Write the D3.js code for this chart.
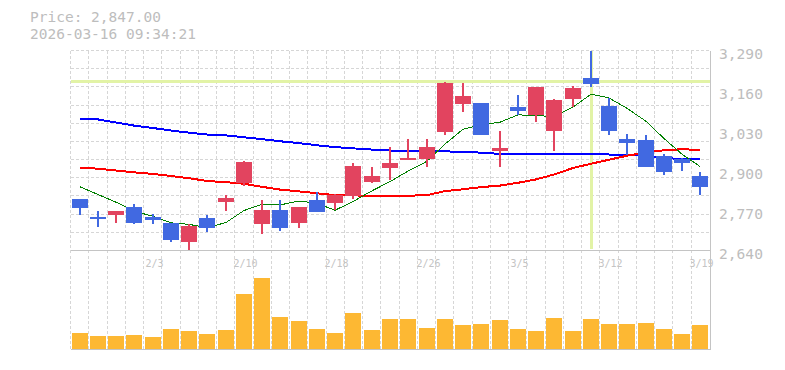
<!DOCTYPE html>
<html>
<head>
<meta charset="utf-8">
<script src="https://cdn.jsdelivr.net/npm/d3@7"></script>
<style>
  body { margin: 0; background: #fff; }
  svg { display: block; background: #fff; }
  text { font-family: "DejaVu Sans Mono", monospace; }
</style>
</head>
<body>
<svg></svg>
<script>
const w = 785, h = 370

// data
const dates = ['1/28','1/29','1/30','2/2','2/3','2/4','2/5','2/6','2/9','2/10',
  '2/12','2/13','2/16','2/17','2/18','2/19','2/20','2/24','2/25','2/26',
  '2/27','3/2','3/3','3/4','3/5','3/6','3/9','3/10','3/11','3/12',
  '3/13','3/16','3/17','3/18','3/19']
const open  = [2806,2750,2757,2780,2750,2731,2669,2747,2799,2858,2725,2773,2728,2803,2794,2816,2864,2907,2938,2939,3024,3115,3118,2962,3108,3079,3027,3134,3202,3111,3001,2998,2946,2936,2881]
const high  = [2806,2767,2770,2790,2759,2731,2725,2754,2822,2930,2803,2803,2783,2829,2823,2926,2910,2975,3001,3001,3188,3183,3121,3030,3147,3173,3131,3176,3290,3137,3020,3017,2955,2942,2894]
const low   = [2756,2716,2729,2727,2725,2669,2642,2700,2768,2849,2695,2705,2712,2764,2773,2806,2858,2868,2933,2910,3017,3089,3014,2913,3079,3059,2965,3108,3170,3017,2949,2910,2884,2900,2822]
const close = [2777,2746,2767,2729,2738,2673,2721,2713,2812,2929,2773,2712,2780,2764,2822,2916,2881,2926,2942,2975,3186,3141,3014,2972,3092,3173,3128,3167,3181,3027,2988,2913,2894,2923,2847]
const ma5   = [2847,2822,2797,2768,2751,2730,2725,2714,2731,2770,2790,2788,2801,2793,2771,2799,2834,2864,2898,2930,2986,3034,3049,3057,3081,3078,3076,3106,3148,3136,3102,3060,3004,2953,2913]
const ma25  = [2909,2906,2900,2894,2889,2882,2875,2866,2862,2857,2847,2838,2832,2826,2820,2819,2818,2816,2818,2820,2833,2839,2846,2851,2860,2871,2887,2908,2922,2935,2948,2958,2966,2969,2967]
const ma75  = [3066,3066,3056,3046,3038,3030,3023,3017,3014,3008,3002,2995,2989,2982,2976,2972,2968,2965,2964,2963,2962,2961,2958,2954,2954,2954,2954,2954,2954,2952,2952,2948,2940,2938,2937]
const volume = [240,195,195,210,180,300,270,225,285,825,1065,480,420,300,240,540,285,450,450,315,450,360,375,435,300,270,465,270,450,375,375,390,300,225,360]
const priceTicks = [2640, 2770, 2900, 3030, 3160, 3290]
const dateTicks = ['2/3','2/10','2/18','2/26','3/5','3/12','3/19']
const lastPrice = 2847
const stamp = '2026-03-16 09:34:21'
const cursorDate = '3/11'
const cursorPrice = 3192

const data = dates.map((d, i) => ({
  date: d, o: open[i], h: high[i], l: low[i], c: close[i],
  ma5: ma5[i], ma25: ma25[i], ma75: ma75[i], v: volume[i]
}))

// layout
const plotL = 70.5, plotR = 709.5
const plotT = 50.5, plotB = 250.5, volB = 349.5

const svg = d3.select('svg')
  .attr('width', w)
  .attr('height', h)

// Scales
const x = d3.scaleBand()
  .domain(dates)
  .range([plotL, plotR])
  .paddingInner(0.12)
  .paddingOuter(0.06)

const y = d3.scaleLinear()
  .domain([2640, 3290])
  .range([plotB, plotT])

const vy = d3.scaleLinear()
  .domain([0, 1470])
  .range([volB - 0.5, plotB + 0.5])

const step = x.step()
const cx = d => Math.round(x(d) + x.bandwidth() / 2)

// Grid
const grid = svg.append('g')
  .attr('stroke', '#d6d6d6')
  .attr('stroke-dasharray', '3,2')
  .attr('shape-rendering', 'crispEdges')

grid.selectAll('.vg')
  .data(d3.range(dates.length))
  .enter()
  .append('line')
  .attr('x1', i => plotL + i * step)
  .attr('x2', i => plotL + i * step)
  .attr('y1', plotT)
  .attr('y2', volB)

grid.selectAll('.hg')
  .data(d3.range(11))
  .enter()
  .append('line')
  .attr('x1', plotL)
  .attr('x2', plotR)
  .attr('y1', i => plotT + i * (plotB - plotT) / 11)
  .attr('y2', i => plotT + i * (plotB - plotT) / 11)

// frame
const frame = svg.append('g')
  .attr('stroke', '#c4c4c4')
  .attr('shape-rendering', 'crispEdges')
frame.append('line').attr('x1', plotL).attr('x2', plotR + 1).attr('y1', plotB).attr('y2', plotB)
frame.append('line').attr('x1', plotL).attr('x2', plotR + 1).attr('y1', volB).attr('y2', volB)
frame.append('line').attr('x1', plotR + 0.5).attr('x2', plotR + 0.5).attr('y1', plotT).attr('y2', volB)

// cursor
const cursor = svg.append('g')
  .attr('stroke', '#e2f3a6')
  .attr('stroke-width', 3)
  .attr('shape-rendering', 'crispEdges')
cursor.append('line')
  .attr('x1', plotL).attr('x2', plotR)
  .attr('y1', Math.round(y(cursorPrice))).attr('y2', Math.round(y(cursorPrice)))
cursor.append('line')
  .attr('x1', cx(cursorDate)).attr('x2', cx(cursorDate))
  .attr('y1', plotT).attr('y2', plotB - 2)

// Moving averages
const lines = [
  { key: 'ma75', color: '#0000ff', width: 2 },
  { key: 'ma25', color: '#ff0000', width: 2 },
  { key: 'ma5', color: '#008000', width: 1 }
]
lines.forEach(s => {
  svg.append('path')
    .datum(data)
    .attr('fill', 'none')
    .attr('stroke', s.color)
    .attr('stroke-width', s.width)
    .attr('shape-rendering', 'crispEdges')
    .attr('d', d3.line().x(d => cx(d.date)).y(d => y(d[s.key])))
})

// Candles
const up = '#e2445f', down = '#4169e1'
const candles = svg.selectAll('.candle')
  .data(data)
  .enter()
  .append('g')
  .attr('class', 'candle')
  .attr('shape-rendering', 'crispEdges')
  .style('fill', d => d.c >= d.o ? up : down)

candles.append('rect')
  .attr('x', d => cx(d.date) - 1)
  .attr('width', 2)
  .attr('y', d => y(d.h))
  .attr('height', d => y(d.l) - y(d.h))

candles.append('rect')
  .attr('x', d => cx(d.date) - 8)
  .attr('width', 16)
  .attr('y', d => y(Math.max(d.o, d.c)))
  .attr('height', d => Math.max(2, Math.abs(y(d.o) - y(d.c))))

// Volume
svg.selectAll('.vol')
  .data(data)
  .enter()
  .append('rect')
  .attr('class', 'vol')
  .attr('shape-rendering', 'crispEdges')
  .attr('x', d => cx(d.date) - 8)
  .attr('width', 16)
  .attr('y', d => vy(d.v))
  .attr('height', d => vy(0) - vy(d.v))
  .style('fill', '#fdb833')

// Axes
svg.append('g')
  .selectAll('text')
  .data(priceTicks)
  .enter()
  .append('text')
  .attr('x', 719)
  .attr('y', d => y(d) + 8)
  .attr('font-size', '14.6px')
  .attr('fill', '#bdbdbd')
  .text(d => d3.format(',')(d))

svg.append('g')
  .selectAll('text')
  .data(dateTicks)
  .enter()
  .append('text')
  .attr('x', d => cx(d) + 1.5)
  .attr('y', 266.5)
  .attr('text-anchor', 'middle')
  .attr('font-size', '10px')
  .attr('fill', '#c4c4c4')
  .text(d => d)

// Header
svg.append('text')
  .attr('x', 30).attr('y', 21.5)
  .attr('font-size', '14.5px')
  .attr('fill', '#bdbdbd')
  .text('Price: ' + d3.format(',.2f')(lastPrice))

svg.append('text')
  .attr('x', 30).attr('y', 38.5)
  .attr('font-size', '14.5px')
  .attr('fill', '#bdbdbd')
  .text(stamp)
</script>
</body>
</html>
